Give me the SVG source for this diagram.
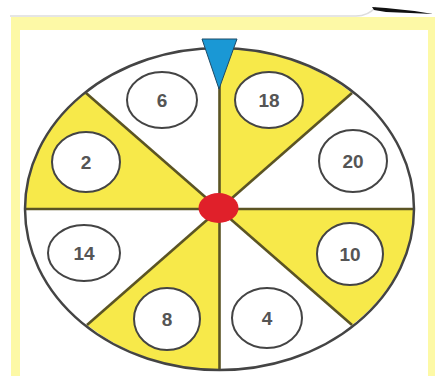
<svg xmlns="http://www.w3.org/2000/svg" width="436" height="376" viewBox="0 0 436 376">
<style>
.num{fill:#fff;stroke:#444;stroke-width:2}
.yel{fill:#f7e94a}
.spoke{stroke:#5b5424;stroke-width:2.6;fill:none}
text{font-family:"Liberation Sans",Arial,sans-serif;font-size:19px;font-weight:bold;fill:#555;text-anchor:middle;dominant-baseline:central}
</style>
<rect width="436" height="376" fill="#fff"/>
<path d="M10 16 H356 Q368 16 376 7" fill="none" stroke="#ddd" stroke-width="1.5"/>
<path d="M372 7 L386 8 Q410 10 433 14 Q410 13 386 12 L374 10 Z" fill="#111"/>
<rect x="11" y="17" width="424" height="365" fill="#fdf9a6"/>
<rect x="20" y="30" width="408" height="352" fill="#fff"/>
<g id="wheel">
<ellipse cx="219.5" cy="209" rx="194.5" ry="161" fill="#fff"/>
<path class="yel" d="M219.5 209 L219.5 48 A194.5 161 0 0 1 352 93 Z"/>
<path class="yel" d="M219.5 209 L86 93 A194.5 161 0 0 0 25 209 Z"/>
<path class="yel" d="M219.5 209 L414 209 A194.5 161 0 0 1 352 325 Z"/>
<path class="yel" d="M219.5 209 L219.5 370 A194.5 161 0 0 1 87 325 Z"/>
</g>
<g id="connectors">
<line class="spoke" x1="219.5" y1="48" x2="219.5" y2="370"/>
<line class="spoke" x1="25" y1="209" x2="414" y2="209"/>
<line class="spoke" x1="86" y1="93" x2="352" y2="325"/>
<line class="spoke" x1="352" y1="93" x2="87" y2="325"/>
</g>
<ellipse cx="219.5" cy="209" rx="194.5" ry="161" fill="none" stroke="#444" stroke-width="2.5"/>
<g id="n6"><ellipse class="num" cx="162" cy="100" rx="35" ry="28"/><text x="162" y="100">6</text></g>
<g id="n18"><ellipse class="num" cx="269" cy="100" rx="34" ry="28"/><text x="269" y="100">18</text></g>
<g id="n2"><ellipse class="num" cx="86" cy="162" rx="34" ry="30"/><text x="86" y="162">2</text></g>
<g id="n20"><ellipse class="num" cx="353" cy="161" rx="34" ry="31"/><text x="353" y="161">20</text></g>
<g id="n14"><ellipse class="num" cx="84" cy="253" rx="36" ry="28"/><text x="84" y="253">14</text></g>
<g id="n10"><ellipse class="num" cx="350" cy="254" rx="33" ry="31"/><text x="350" y="254">10</text></g>
<g id="n8"><ellipse class="num" cx="167" cy="319" rx="33" ry="31"/><text x="167" y="319">8</text></g>
<g id="n4"><ellipse class="num" cx="267" cy="318" rx="35" ry="30"/><text x="267" y="318">4</text></g>
<g id="hub"><ellipse cx="218.5" cy="208" rx="20" ry="15" fill="#e0202a"/></g>
<g id="pointer"><polygon points="202,39 237,39 219,89" fill="#1a98d5" stroke="#1d4a66" stroke-width="1"/></g>
</svg>
